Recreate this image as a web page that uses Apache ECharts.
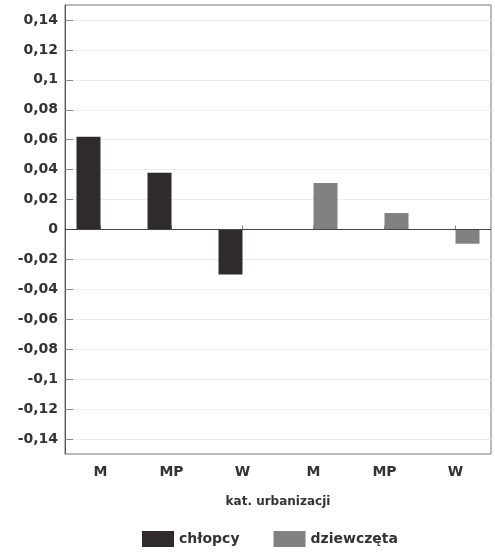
<!DOCTYPE html>
<html><head><meta charset="utf-8">
<script src="https://cdn.jsdelivr.net/npm/echarts@6/dist/echarts.min.js"></script>
<style>html,body{margin:0;padding:0;background:#fff}#c{width:495px;height:558px}</style>
</head><body><div id="c"></div>
<script>
const categories = ['M', 'MP', 'W', 'M', 'MP', 'W'];
const boys = [0.062, 0.038, -0.030, null, null, null];
const girls = [null, null, null, 0.031, 0.011, -0.0095];
const yTicks = [-0.14, -0.12, -0.10, -0.08, -0.06, -0.04, -0.02, 0, 0.02, 0.04, 0.06, 0.08, 0.10, 0.12, 0.14];
const seriesNames = ['chłopcy', 'dziewczęta'];
const axisName = 'kat. urbanizacji';

const chart = echarts.init(document.getElementById('c'));
const font = 'DejaVu Sans, sans-serif';
function fmt(v) {
  if (Math.abs(v) < 1e-9) return '0';
  return String(Math.round(v * 100) / 100).replace('.', ',');
}
chart.setOption({
  animation: false,
  backgroundColor: '#fff',
  grid: { left: 65, right: 4, top: 5, bottom: 104, show: true, borderColor: '#777', borderWidth: 1 },
  xAxis: {
    type: 'category', data: categories,
    name: axisName, nameLocation: 'middle', nameGap: 42,
    nameTextStyle: { fontFamily: font, fontWeight: 'bold', fontSize: 12, color: '#333' },
    axisLine: { show: false },
    axisTick: { show: true, inside: true, alignWithLabel: true, length: 4, lineStyle: { color: '#888' } },
    axisLabel: { fontFamily: font, fontWeight: 'bold', fontSize: 14, color: '#333', margin: 11 },
    splitLine: { show: false }
  },
  yAxis: {
    type: 'value', min: -0.15, max: 0.15,
    axisLine: { show: true, lineStyle: { color: '#555' } },
    axisTick: { show: true, inside: true, length: 8, customValues: yTicks, lineStyle: { color: '#888' } },
    axisLabel: { fontFamily: font, fontWeight: 'bold', fontSize: 14, color: '#333', margin: 7, customValues: yTicks, formatter: fmt },
    splitLine: { show: true, lineStyle: { color: '#ececec' } }
  },
  legend: {
    bottom: 6, left: 137, itemWidth: 32, itemHeight: 16, itemGap: 34, icon: 'rect',
    textStyle: { fontFamily: font, fontWeight: 'bold', fontSize: 14, color: '#333' },
    data: seriesNames
  },
  series: [
    { name: seriesNames[0], type: 'bar', data: boys, barWidth: 24, barGap: '0%', itemStyle: { color: '#2e2a2e' },
      markLine: { silent: true, symbol: 'none', label: { show: false }, lineStyle: { color: '#444', width: 1.2, type: 'solid' }, data: [{ yAxis: 0 }] } },
    { name: seriesNames[1], type: 'bar', data: girls, barWidth: 24, barGap: '0%', itemStyle: { color: '#818181' } }
  ]
});
</script></body></html>
